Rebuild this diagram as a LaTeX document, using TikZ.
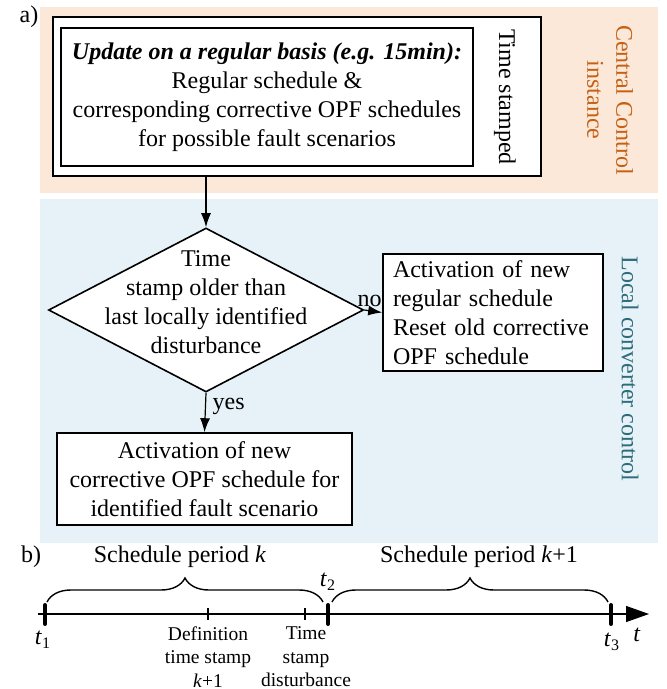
\documentclass[tikz,border=0pt]{standalone}
\usepackage{fontspec}
\setmainfont{Liberation Serif}
\usepackage{tikz}
\usetikzlibrary{arrows.meta,positioning,calc,shapes.geometric,decorations.pathreplacing}

\definecolor{centralbg}{RGB}{251,232,216}
\definecolor{localbg}{RGB}{230,242,247}
\definecolor{centraltxt}{RGB}{197,96,20}
\definecolor{localtxt}{RGB}{46,108,124}

\begin{document}
\begin{tikzpicture}[x=0.5pt,y=-0.5pt,>={Latex[length=7pt,width=5pt]},
  font=\fontsize{12}{14.5}\selectfont,
  frame/.style={draw,fill=white,line width=0.9pt,inner sep=0pt},
  textbox/.style={draw,fill=white,line width=0.8pt,align=center,inner sep=0pt},
  flow/.style={->,line width=0.6pt},
  small/.style={font=\fontsize{9.75}{11.75}\selectfont,align=center},
  tmark/.style={line width=2pt,line cap=round},
  brc/.style={decorate,decoration={brace,amplitude=12pt},line width=0.7pt}]
\useasboundingbox (0,0) rectangle (667,689);
% a) central and local part
\fill[centralbg] (40,7) rectangle (658,193);
\fill[localbg] (40,199) rectangle (658,543);
\node (a) at (29,17) {a)};
\node[frame,minimum width=244pt,minimum height=79.5pt] (outer) at (297,96.5) {};
\node[textbox,minimum width=206pt,minimum height=69pt] (update) at (267,97)
  {\textbf{\textit{Update on a regular basis (e.g. 15min):}}\\Regular schedule \&\\corresponding corrective OPF schedules\\for possible fault scenarios};
\node[rotate=-90] (stamp) at (505,97) {Time stamped};
\node[rotate=-90,align=center,text=centraltxt] (central) at (610,100) {Central Control\\instance};

\node[draw,fill=white,diamond,line width=0.8pt,minimum width=157.5pt,minimum height=82pt,inner sep=0pt,
  label={[align=center,yshift=4pt]center:Time\\stamp older than\\last locally identified\\disturbance}] (check) at (206,310) {};
\node[textbox,align=left,text width=100pt,minimum height=58.5pt,inner xsep=5pt] (regular) at (493,312.5)
  {Activation of new\\regular schedule\\Reset old corrective\\OPF schedule};
\node[textbox,minimum width=147.5pt,minimum height=46pt] (corrective) at (204.5,479)
  {Activation of new\\corrective OPF schedule for\\identified fault scenario};
\node[rotate=-90,text=localtxt] (local) at (630,369) {Local converter control};

\draw[flow] (check.north |- outer.south) -- (check.north);
\draw[flow] (check.east) -- node[above,inner sep=1.5pt,pos=0.3] (no) {no} (regular.west);
\draw[flow] (check.south) -- node[right,pos=0.35] (yes) {yes} (corrective.north);

% b) time line
\node (b) at (31,557) {b)};
\coordinate (t0) at (38,614);
\coordinate (tend) at (649,614);
\draw[line width=0.6pt,-{Triangle[length=11.5pt,width=8pt]}] (t0) -- (tend);
\foreach \x in {45,328,611}
  \draw[tmark] (\x,605) -- (\x,624);
\foreach \x in {208,305}
  \draw[line width=0.6pt] (\x,608) -- (\x,620);
\draw[brc] (47,602) -- (323,602);
\draw[brc] (332,602) -- (608,602);
\node (per1) at (180,557) {Schedule period \textit{k}};
\node (per2) at (479,557) {Schedule period \textit{k}+1};
\node (t1) at (43,640) {\textit{t}\textsubscript{1}};
\node (t2) at (328,582) {\textit{t}\textsubscript{2}};
\node (t3) at (612,642) {\textit{t}\textsubscript{3}};
\node (t) at (637,635) {\textit{t}};
\node[small] (def) at (208,657) {Definition\\time stamp\\\textit{k}+1};
\node[small] (dist) at (306,657) {Time\\stamp\\disturbance};
\end{tikzpicture}
\end{document}
